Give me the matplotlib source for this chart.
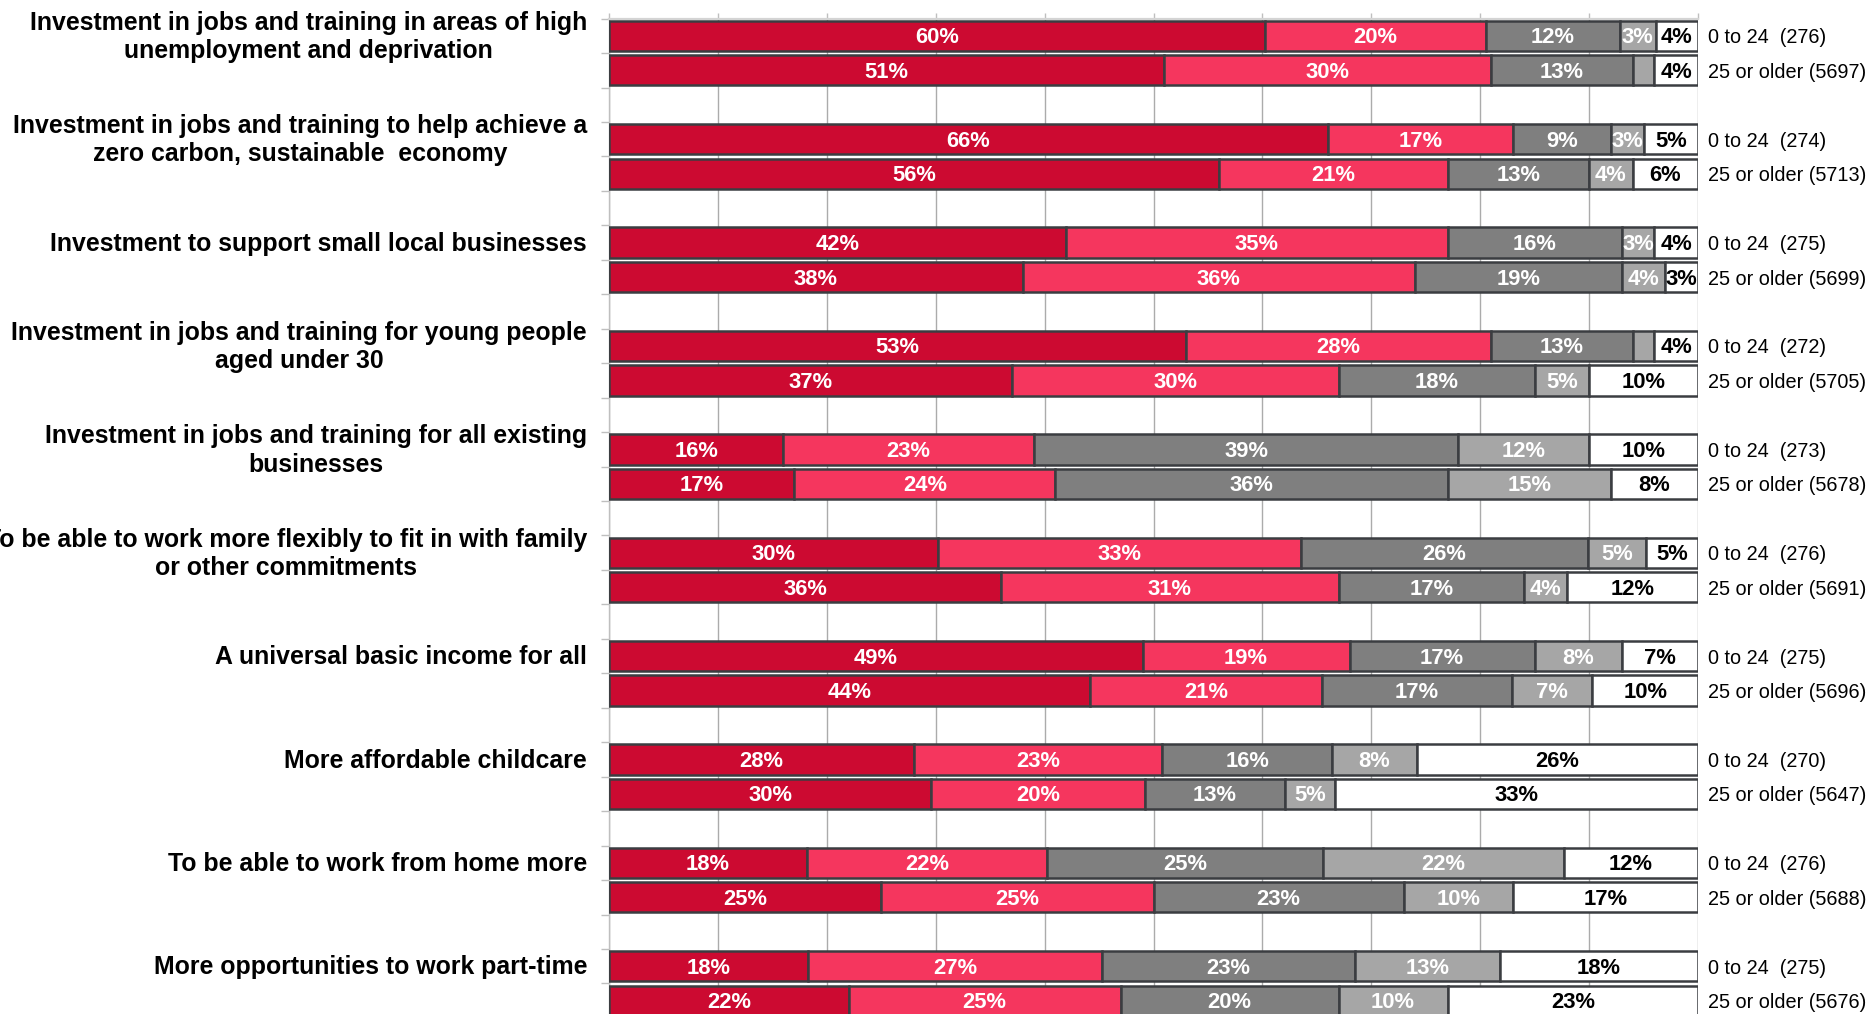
import matplotlib
matplotlib.use("Agg")
import matplotlib.pyplot as plt
from matplotlib import font_manager
import numpy as np

# ---------------- data ----------------
categories = [
    "Investment in jobs and training in areas of high\nunemployment and deprivation",
    "Investment in jobs and training to help achieve a\nzero carbon, sustainable  economy",
    "Investment to support small local businesses",
    "Investment in jobs and training for young people\naged under 30",
    "Investment in jobs and training for all existing\nbusinesses",
    "To be able to work more flexibly to fit in with family\nor other commitments",
    "A universal basic income for all",
    "More affordable childcare",
    "To be able to work from home more",
    "More opportunities to work part-time",
]

row_labels = [
    "0 to 24  (276)", "25 or older (5697)",
    "0 to 24  (274)", "25 or older (5713)",
    "0 to 24  (275)", "25 or older (5699)",
    "0 to 24  (272)", "25 or older (5705)",
    "0 to 24  (273)", "25 or older (5678)",
    "0 to 24  (276)", "25 or older (5691)",
    "0 to 24  (275)", "25 or older (5696)",
    "0 to 24  (270)", "25 or older (5647)",
    "0 to 24  (276)", "25 or older (5688)",
    "0 to 24  (275)", "25 or older (5676)",
]

response_1 = [60.2, 51, 66, 56, 42, 38, 53, 37, 16, 17, 30.2, 36, 49, 44.2, 28.0, 29.6, 18.2, 25, 18.3, 22]
response_2 = [20.3, 30, 17, 21, 35, 36, 28, 30, 23, 24, 33.3, 31, 19, 21.3, 22.8, 19.6, 22.0, 25, 27.0, 25]
response_3 = [12.3, 13, 9, 13, 16, 19, 13, 18, 39, 36, 26.4, 17, 17, 17.4, 15.6, 12.9, 25.4, 23, 23.2, 20]
response_4 = [3.3, 2, 3, 4, 3, 4, 2, 5, 12, 15, 5.3, 4, 8, 7.4, 7.8, 4.6, 22.1, 10, 13.3, 10]
response_5 = [3.9, 4, 5, 6, 4, 3, 4, 10, 10, 8, 4.8, 12, 7, 9.7, 25.8, 33.3, 12.3, 17, 18.2, 23]

series = [response_1, response_2, response_3, response_4, response_5]
colors = ["#CC0A31", "#F5365E", "#7F7F7F", "#A6A6A6", "#FFFFFF"]
text_colors = ["white", "white", "white", "white", "black"]

# narrow font if available
try:
    font_manager.findfont(font_manager.FontProperties(family="Liberation Sans Narrow"),
                          fallback_to_default=False)
    narrow = "Liberation Sans Narrow"
    seg_size, side_size = 17.5, 17.4
except Exception:
    narrow = "Liberation Sans"
    seg_size, side_size = 15.8, 14.3

# ---------------- figure ----------------
W, H, DPI = 1870, 1014, 100
fig = plt.figure(figsize=(W / DPI, H / DPI), dpi=DPI)

n_slots = 30
slot_px = 34.46
top_px = 18.6
left_px, right_px = 609, 1698
ax_h = n_slots * slot_px / H
ax_top = 1 - top_px / H
ax = fig.add_axes([left_px / W, ax_top - ax_h, (right_px - left_px) / W, ax_h])

n_rows = len(row_labels)
ypos = np.array([3 * (r // 2) + (r % 2) + 0.5 for r in range(n_rows)])
pt = 72 / DPI  # points per pixel

left = np.zeros(n_rows)
for vals, col, tcol in zip(series, colors, text_colors):
    vals = np.array(vals, dtype=float)
    ax.barh(ypos, vals, left=left, height=0.88, color=col,
            edgecolor="#3B3D41", linewidth=1.8, zorder=3)
    for y, l, v in zip(ypos, left, vals):
        if round(v) >= 3:
            ax.annotate(f"{round(v):.0f}%", xy=(l + v / 2, y), xycoords="data",
                        xytext=(0, -2 * pt), textcoords="offset points",
                        ha="center", va="center",
                        color=tcol, fontsize=seg_size, fontweight="bold",
                        family=narrow, zorder=4)
    left += vals

ax.set_xlim(0, 100)
ax.set_ylim(n_slots, 0)

# grid and axes styling
ax.set_axisbelow(True)
ax.set_xticks(np.arange(0, 101, 10))
ax.xaxis.grid(True, color="#ABABAB", linewidth=1.0)
ax.xaxis.set_ticks_position("top")
ax.tick_params(axis="x", top=True, bottom=False, labeltop=False, labelbottom=False,
               direction="out", length=4.5, color="#BFBFBF", width=1.0)
ax.set_yticks(np.arange(0, n_slots + 1, 1))
ax.tick_params(axis="y", left=True, labelleft=False, direction="out",
               length=5.8, color="#BFBFBF", width=1.0)
for side in ["right", "bottom"]:
    ax.spines[side].set_visible(False)
ax.spines["left"].set_color("#BFBFBF")
ax.spines["left"].set_linewidth(1.0)
ax.spines["top"].set_color("#D4D4D4")
ax.spines["top"].set_linewidth(1.6)

# category labels
for g, cat in enumerate(categories):
    ax.annotate(cat, xy=(0, 3 * g + 0.5), xycoords=("axes fraction", "data"),
                xytext=(-22 * pt, -1.2 * pt), textcoords="offset points",
                ha="right", va="center", multialignment="center",
                fontsize=17.9, fontweight="bold", family="Liberation Sans",
                linespacing=1.22, color="black")

# row labels on the right
for y, lab in zip(ypos, row_labels):
    ax.annotate(lab, xy=(1, y), xycoords=("axes fraction", "data"),
                xytext=(10 * pt, -2 * pt), textcoords="offset points",
                ha="left", va="center", fontsize=side_size,
                family=narrow, color="black")

fig.savefig("out.png", dpi=DPI)
